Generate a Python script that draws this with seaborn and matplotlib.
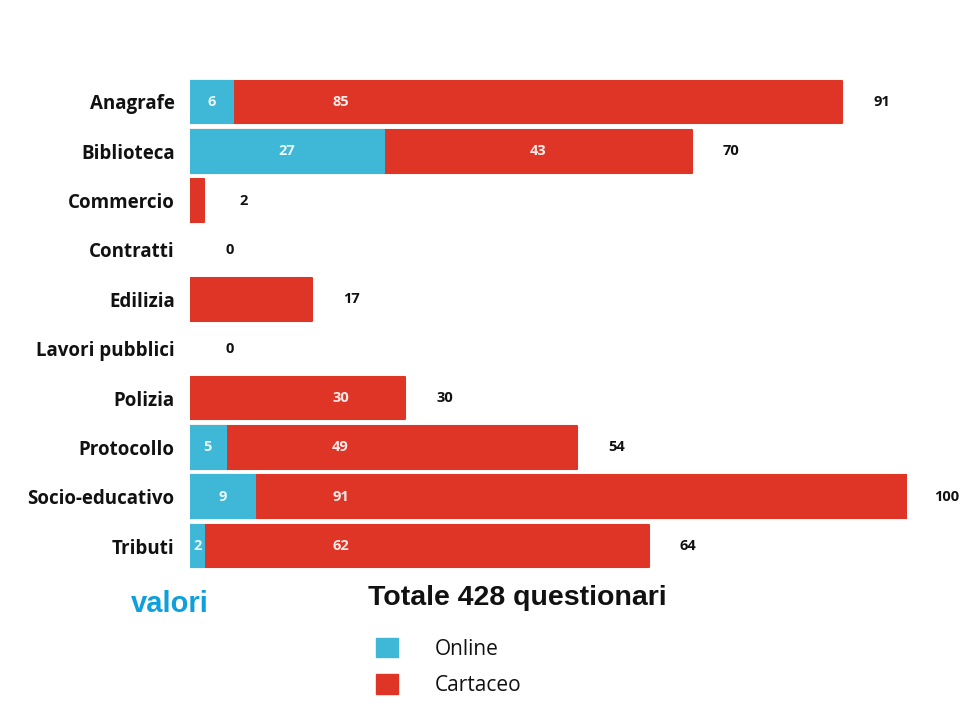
import matplotlib
matplotlib.use("Agg")
import matplotlib.pyplot as plt
from matplotlib.patches import Patch
import seaborn as sns
import pandas as pd

# Questionari per servizio: online e cartacei
categorie = ["Anagrafe", "Biblioteca", "Commercio", "Contratti", "Edilizia",
             "Lavori pubblici", "Polizia", "Protocollo", "Socio-educativo", "Tributi"]
online = [6, 27, 0, 0, 0, 0, 0, 5, 9, 2]
cartaceo = [85, 43, 2, 0, 17, 0, 30, 49, 91, 62]
titolo_legenda = "Totale 428 questionari"

BLU = "#3fb7d7"
ROSSO = "#de3526"

df = pd.DataFrame({"categoria": categorie, "online": online, "cartaceo": cartaceo})
df["totale"] = df["online"] + df["cartaceo"]

sns.set_theme(style="white")
plt.rcParams["font.family"] = ["Open Sans", "DejaVu Sans"]

fig = plt.figure(figsize=(9.73, 7.2), dpi=100)
ax = fig.add_axes([190 / 973, 1 - 570.7 / 720, 717 / 973, (570.7 - 77.3) / 720])

# barre impilate: il totale in rosso, la quota online in blu sopra
sns.barplot(data=df, y="categoria", x="totale", color=ROSSO, orient="h",
            width=0.87, ax=ax, saturation=1)
sns.barplot(data=df, y="categoria", x="online", color=BLU, orient="h",
            width=0.87, ax=ax, saturation=1)
for p in ax.patches:
    if p.get_width() > 0:
        p.set_edgecolor(p.get_facecolor())
        p.set_linewidth(1.5)
        p.set_joinstyle("round")
    else:
        p.set_visible(False)

ax.set_xlim(0, 100)
ax.set_ylim(9.5, -0.5)
ax.set_xlabel("")
ax.set_ylabel("")
ax.set_xticks([])
for s in ax.spines.values():
    s.set_visible(False)
ax.tick_params(axis="y", length=0, pad=11)
for lab in ax.get_yticklabels():
    lab.set_fontweight("bold")
    lab.set_fontsize(13.5)
    lab.set_color("#111111")

# etichette dei valori
for i, r in df.iterrows():
    if r["online"] > 0:
        ax.text(r["online"] / 2, i, str(r["online"]), ha="center", va="center",
                color="white", fontsize=10.5, fontweight="bold", alpha=0.9)
    if r["cartaceo"] >= 25:
        xc = 21 if r["online"] < 18 else r["online"] + r["cartaceo"] / 2
        ax.text(xc, i, str(r["cartaceo"]), ha="center", va="center",
                color="white", fontsize=10.5, fontweight="bold", alpha=0.9)
    ax.text(r["totale"] + 5.5, i, str(r["totale"]), ha="center", va="center",
            color="#111111", fontsize=10.5, fontweight="bold", clip_on=False)

fig.text(170 / 973, 1 - 604 / 720, "valori", ha="center", va="center",
         color="#0f9fdc", fontsize=21, fontweight="bold", family="Liberation Sans")

fig.text(368 / 973, 1 - 598 / 720, titolo_legenda, ha="left", va="center",
         color="#111111", fontsize=20.5, fontweight="bold", family="Liberation Sans")

handles = [Patch(facecolor=BLU, edgecolor=BLU), Patch(facecolor=ROSSO, edgecolor=ROSSO)]
leg = fig.legend(handles, ["Online", "Cartaceo"], loc="upper left",
                 bbox_to_anchor=(376 / 973, 1 - 638 / 720), frameon=False,
                 fontsize=15, handlelength=1.05, handleheight=1.05,
                 handletextpad=1.75, labelspacing=0.7, borderaxespad=0,
                 borderpad=0)
for t in leg.get_texts():
    t.set_color("#111111")

fig.savefig("out.png", dpi=100, facecolor="white")
